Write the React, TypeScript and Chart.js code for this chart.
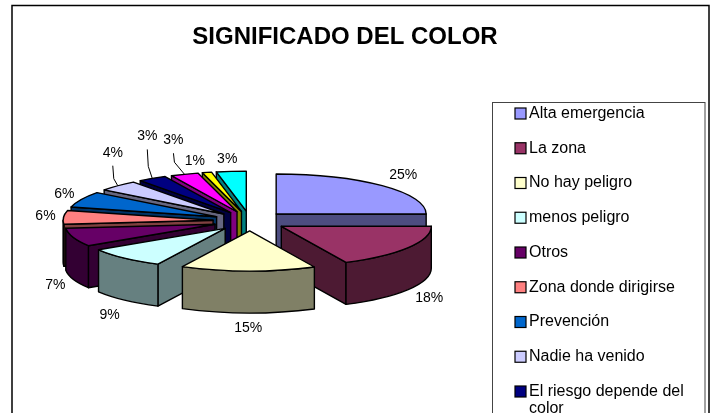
import React, { useEffect, useRef } from "react";
import { Chart, registerables } from "chart.js";

Chart.register(...registerables);

const chartTitle = "SIGNIFICADO DEL COLOR";
// The last three legend rows fall below the picture in the reference, so their names cannot be read.
const categories = [
  "Alta emergencia",
  "La zona",
  "No hay peligro",
  "menos peligro",
  "Otros",
  "Zona donde dirigirse",
  "Prevención",
  "Nadie ha venido",
  "El riesgo depende del color",
  "",
  "",
  "",
];
const shares = [25, 17.9, 14.5, 8.6, 7.4, 5.5, 6.4, 4.4, 3.1, 3.0, 1.0, 3.2];
const colors = [
  "#9999FF",
  "#993366",
  "#FFFFCC",
  "#CCFFFF",
  "#660066",
  "#FF8080",
  "#0066CC",
  "#CCCCFF",
  "#000080",
  "#FF00FF",
  "#FFFF00",
  "#00FFFF",
];
// Label nudges relative to the slice rim, and the leader lines' bend below their label.
const labelNudgeX = [21, 21, 0, -15, -18, -18, -17, -5, -5, -11, -12, -4];
const labelNudgeY = [-11, 9, 15, 15, 6, -1, -5, -33, -42, -34, -11, -12];
const leaderBend = [0, 0, 0, 0, 0, 0, 0, 26, 30, 22, 0, 0];

const TILT = 0.267;
const EXPLODE = 37;
const DEPTH = 42;
const FONT = "Liberation Sans, Arial, sans-serif";

function shade(hex: string) {
  const n = parseInt(hex.slice(1), 16);
  const f = (v: number) => Math.round(v / 2);
  return `rgb(${f((n >> 16) & 255)},${f((n >> 8) & 255)},${f(n & 255)})`;
}

const pie3d = {
  id: "pie3d",
  beforeDatasetsDraw(chart: any) {
    const ctx: CanvasRenderingContext2D = chart.ctx;
    const arcs = chart.getDatasetMeta(0).data.map((el: any, i: number) => {
      const p = el.getProps(["x", "y", "startAngle", "endAngle", "outerRadius"]);
      const mid = (p.startAngle + p.endAngle) / 2;
      return {
        i,
        a: p.startAngle,
        b: p.endAngle,
        r: p.outerRadius,
        mid,
        x: p.x + Math.cos(mid) * EXPLODE,
        y: p.y + Math.sin(mid) * EXPLODE * TILT,
      };
    });
    const order = [...arcs].sort((u: any, v: any) => Math.sin(u.mid) - Math.sin(v.mid));
    ctx.save();
    ctx.lineWidth = 1.4;
    ctx.lineJoin = "round";
    ctx.strokeStyle = "#000";
    for (const s of order) {
      const px = (t: number) => s.x + s.r * Math.cos(t);
      const py = (t: number) => s.y + s.r * TILT * Math.sin(t);
      const wall = shade(colors[s.i]);
      const radial = (t: number) => {
        ctx.beginPath();
        ctx.moveTo(s.x, s.y);
        ctx.lineTo(px(t), py(t));
        ctx.lineTo(px(t), py(t) + DEPTH);
        ctx.lineTo(s.x, s.y + DEPTH);
        ctx.closePath();
        ctx.fillStyle = wall;
        ctx.fill();
        ctx.stroke();
      };
      if (Math.cos(s.a) < 0) radial(s.a);
      if (Math.cos(s.b) > 0) radial(s.b);
      const from = Math.max(s.a, 0);
      const to = Math.min(s.b, Math.PI);
      if (to > from) {
        ctx.beginPath();
        ctx.ellipse(s.x, s.y, s.r, s.r * TILT, 0, from, to);
        ctx.lineTo(px(to), py(to) + DEPTH);
        ctx.ellipse(s.x, s.y + DEPTH, s.r, s.r * TILT, 0, to, from, true);
        ctx.closePath();
        ctx.fillStyle = wall;
        ctx.fill();
        ctx.stroke();
      }
      ctx.beginPath();
      ctx.moveTo(s.x, s.y);
      ctx.ellipse(s.x, s.y, s.r, s.r * TILT, 0, s.a, s.b);
      ctx.closePath();
      ctx.fillStyle = colors[s.i];
      ctx.fill();
      ctx.stroke();
    }
    // value labels
    ctx.font = `14px ${FONT}`;
    ctx.fillStyle = "#000";
    ctx.textAlign = "center";
    ctx.textBaseline = "middle";
    for (const s of arcs) {
      const rimX = s.x + s.r * Math.cos(s.mid);
      const rimY = s.y + s.r * TILT * Math.sin(s.mid);
      const front = Math.sin(s.mid) > 0 ? DEPTH : 0;
      const lx = rimX + labelNudgeX[s.i];
      const ly = rimY + front + labelNudgeY[s.i];
      if (leaderBend[s.i]) {
        ctx.lineWidth = 1;
        ctx.beginPath();
        ctx.moveTo(lx, ly + 13);
        ctx.lineTo(lx + 1, ly + leaderBend[s.i]);
        ctx.lineTo(rimX, rimY);
        ctx.stroke();
      }
      ctx.fillText(`${Math.round(shares[s.i])}%`, lx, ly);
    }
    ctx.restore();
    return false;
  },
};

const frame = {
  id: "frame",
  afterDraw(chart: any) {
    const ctx: CanvasRenderingContext2D = chart.ctx;
    ctx.save();
    // chart border
    ctx.strokeStyle = "#000";
    ctx.lineWidth = 1.5;
    ctx.strokeRect(12, 5.5, 697, 430);
    // title
    ctx.fillStyle = "#000";
    ctx.font = `bold 24px ${FONT}`;
    ctx.textAlign = "center";
    ctx.textBaseline = "middle";
    ctx.fillText(chartTitle, 345, 37);
    // legend
    ctx.strokeStyle = "#444";
    ctx.lineWidth = 1;
    ctx.strokeRect(492.5, 102.5, 212.5, 330);
    ctx.font = `16px ${FONT}`;
    ctx.textAlign = "left";
    categories.forEach((label, i) => {
      if (!label) return;
      const y = 113.5 + i * 34.75;
      ctx.fillStyle = colors[i];
      ctx.fillRect(515, y - 5.5, 11, 11);
      ctx.strokeStyle = "#000";
      ctx.lineWidth = 1.2;
      ctx.strokeRect(515, y - 5.5, 11, 11);
      ctx.fillStyle = "#000";
      const words = label.split(" ");
      let line = "";
      let row = 0;
      for (const w of words) {
        const next = line ? `${line} ${w}` : w;
        if (ctx.measureText(next).width > 170 && line) {
          ctx.fillText(line, 529, y + row * 17);
          row += 1;
          line = w;
        } else {
          line = next;
        }
      }
      ctx.fillText(line, 529, y + row * 17);
    });
    ctx.restore();
  },
};

export default function App() {
  const ref = useRef<HTMLCanvasElement>(null);
  useEffect(() => {
    document.body.style.margin = "0";
    document.body.style.overflow = "hidden";
    const chart = new Chart(ref.current as HTMLCanvasElement, {
      type: "pie",
      data: {
        labels: categories,
        datasets: [{ data: shares, backgroundColor: colors, borderColor: "#000", borderWidth: 1 }],
      },
      options: {
        animation: false,
        responsive: false,
        radius: 150,
        layout: { padding: { left: 0, right: 213, top: 29, bottom: 0 } },
        plugins: { legend: { display: false }, title: { display: false }, tooltip: { enabled: false } },
      } as any,
      plugins: [pie3d, frame],
    });
    return () => chart.destroy();
  }, []);
  return <canvas ref={ref} width={713} height={413} style={{ display: "block", background: "#fff" }} />;
}
